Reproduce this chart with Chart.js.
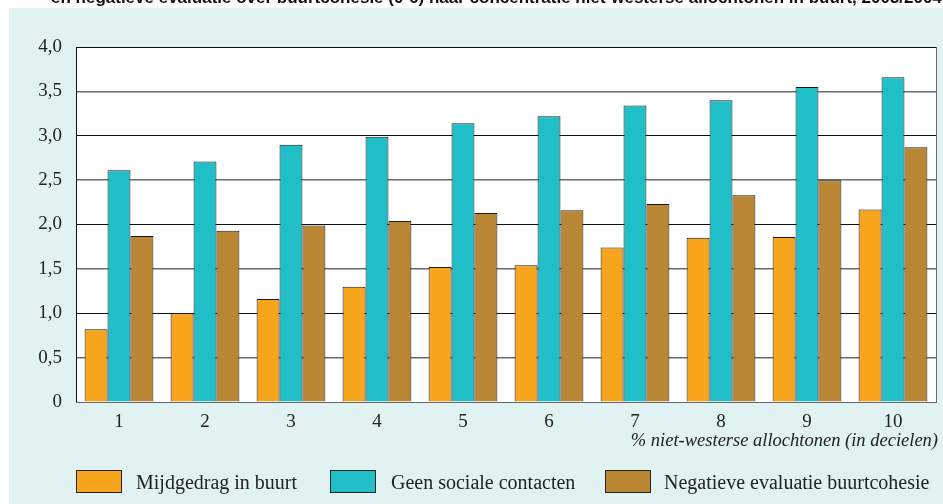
<!DOCTYPE html>
<html>
<head>
<meta charset="utf-8">
<script src="https://cdn.jsdelivr.net/npm/chart.js@4"></script>
<style>
  html, body { margin: 0; padding: 0; background: #fff; }
  #wrap { width: 943px; height: 504px; }
</style>
</head>
<body>
<div id="wrap"><canvas id="chart" width="943" height="504"></canvas></div>
<script>
const categories = ['1', '2', '3', '4', '5', '6', '7', '8', '9', '10'];
const mijdgedrag = [0.82, 1.00, 1.16, 1.30, 1.52, 1.54, 1.74, 1.85, 1.86, 2.17];
const geenContacten = [2.61, 2.71, 2.90, 2.99, 3.14, 3.22, 3.34, 3.40, 3.55, 3.66];
const negatieveCohesie = [1.87, 1.93, 1.99, 2.04, 2.13, 2.16, 2.23, 2.33, 2.50, 2.87];
const seriesNames = ['Mijdgedrag in buurt', 'Geen sociale contacten', 'Negatieve evaluatie buurtcohesie'];
const titleText = 'en negatieve evaluatie over buurtcohesie (0-6) naar concentratie niet-westerse allochtonen in buurt, 2003/2004';
const xTitle = '% niet-westerse allochtonen (in decielen)';

const SERIF = '"Liberation Serif", "DejaVu Serif", serif';
const colors = ['#f8a51e', '#20bfc8', '#b98634'];

const background = {
  id: 'background',
  beforeDraw(chart) {
    const { ctx, chartArea: a } = chart;
    ctx.save();
    ctx.fillStyle = '#e0f2f1';
    ctx.fillRect(9, 8, chart.width - 9, chart.height - 8);
    ctx.fillStyle = '#fff';
    ctx.fillRect(a.left, a.top, a.right - a.left, a.bottom - a.top);
    // title is cut off by the top of the picture, only its lower edge shows
    ctx.beginPath();
    ctx.rect(0, 0, chart.width, 8);
    ctx.clip();
    ctx.fillStyle = '#111';
    ctx.font = 'bold 17px "Liberation Sans", sans-serif';
    ctx.textBaseline = 'alphabetic';
    ctx.fillText(titleText, 51, 3);
    ctx.restore();
  },
  afterDraw(chart) {
    const { ctx, chartArea: a } = chart;
    ctx.save();
    ctx.strokeStyle = '#666';
    ctx.lineWidth = 1;
    ctx.beginPath();
    ctx.moveTo(a.right + 0.5, a.top);
    ctx.lineTo(a.right + 0.5, a.bottom);
    ctx.stroke();
    ctx.strokeStyle = '#111';
    ctx.beginPath();
    ctx.moveTo(a.left + 0.5, a.top);
    ctx.lineTo(a.left + 0.5, a.bottom);
    ctx.stroke();

    // axis title
    ctx.fillStyle = '#222';
    ctx.font = 'italic 18.5px ' + SERIF;
    ctx.textAlign = 'right';
    ctx.textBaseline = 'middle';
    ctx.fillText(xTitle, 938, 441);

    // legend
    const items = [{ x: 76, tx: 136 }, { x: 330, tx: 391 }, { x: 605, tx: 664 }];
    ctx.textAlign = 'left';
    ctx.font = '20px ' + SERIF;
    chart.data.datasets.forEach((ds, i) => {
      const it = items[i];
      ctx.fillStyle = ds.backgroundColor;
      ctx.fillRect(it.x, 470, 46, 23);
      ctx.strokeStyle = '#222';
      ctx.strokeRect(it.x + 0.5, 470.5, 45, 22);
      ctx.fillStyle = '#222';
      ctx.fillText(ds.label, it.tx, 484);
    });
    ctx.restore();
  }
};

new Chart(document.getElementById('chart'), {
  type: 'bar',
  data: {
    labels: categories,
    datasets: [
      { label: seriesNames[0], data: mijdgedrag, backgroundColor: colors[0] },
      { label: seriesNames[1], data: geenContacten, backgroundColor: colors[1] },
      { label: seriesNames[2], data: negatieveCohesie, backgroundColor: colors[2] }
    ].map((d) => ({ ...d, borderColor: '#1a1a1a', borderWidth: 1, categoryPercentage: 0.8, barPercentage: 1 }))
  },
  options: {
    responsive: false,
    animation: false,
    devicePixelRatio: 1,
    layout: { padding: { top: 47, right: 7, left: 0, bottom: 0 } },
    plugins: { legend: { display: false }, tooltip: { enabled: false } },
    scales: {
      x: {
        grid: { display: false },
        border: { color: '#666' },
        ticks: { color: '#222', font: { family: SERIF, size: 19 }, padding: 1, maxRotation: 0 },
        afterFit(scale) { scale.height = 102; }
      },
      y: {
        min: 0,
        max: 4,
        ticks: {
          stepSize: 0.5,
          color: '#222',
          padding: 14,
          font: { family: SERIF, size: 19 },
          callback: (v) => (v === 0 ? '0' : v.toFixed(1).replace('.', ','))
        },
        grid: {
          color: (c) => (Number.isInteger(c.tick.value) ? '#111' : '#6a6a6a'),
          lineWidth: (c) => (Number.isInteger(c.tick.value) ? 1 : 1.5),
          drawTicks: false
        },
        border: { display: false },
        afterFit(scale) { scale.width = 76; }
      }
    }
  },
  plugins: [background]
});
</script>
</body>
</html>
